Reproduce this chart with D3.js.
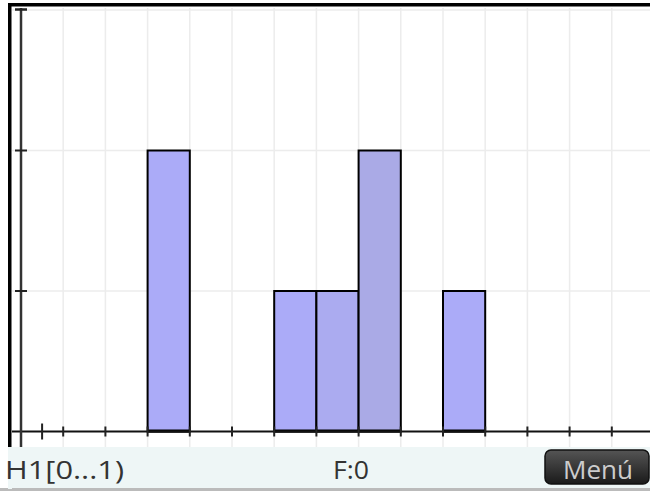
<!DOCTYPE html>
<html><head><meta charset="utf-8">
<script src="https://cdn.jsdelivr.net/npm/d3@7"></script>
<style>body{margin:0;background:#fff}svg{display:block}</style>
</head><body>
<script>
const binStarts = [3, 6, 7, 8, 10];
const counts = [2, 1, 1, 2, 1];
const binColors = ["#ababf8", "#ababf8", "#ababf0", "#aaaae6", "#ababf8"];
const gridX = [1,2,3,4,5,6,7,8,9,10,11,12,13,14];
const tickX = [0.5,1,2,3,4,5,6,7,8,9,10,11,12,13,14];
const gridY = [1,2,3];
const statusLeft = "H1[0...1)";
const statusMid = "F:0";
const menuLabel = "Menú";

const W = 650, H = 491;
const svg = d3.select("body").append("svg").attr("width", W).attr("height", H);
const x = d3.scaleLinear().domain([0, 14]).range([21, 21 + 14*42.2]);
const y = d3.scaleLinear().domain([0, 3]).range([431.5, 10]);
const font = "'Open Sans', 'DejaVu Sans', sans-serif";

// frame
svg.append("rect").attr("x",0).attr("y",0).attr("width",W).attr("height",H).attr("fill","#fff");
svg.append("rect").attr("x",8).attr("y",3).attr("width",W-8).attr("height",3.5).attr("fill","#000");
svg.append("rect").attr("x",8).attr("y",3).attr("width",3.5).attr("height",445).attr("fill","#000");

// grid
svg.append("g").selectAll("line").data(gridX).join("line")
  .attr("x1",d=>x(d)).attr("x2",d=>x(d)).attr("y1",8).attr("y2",447)
  .attr("stroke","#ececec").attr("stroke-width",1.5);
svg.append("g").selectAll("line").data(gridY).join("line")
  .attr("x1",12).attr("x2",W).attr("y1",d=>y(d)).attr("y2",d=>y(d))
  .attr("stroke","#ececec").attr("stroke-width",1.5);

// bars
svg.append("g").selectAll("rect").data(binStarts).join("rect")
  .attr("x",(d)=>x(d)).attr("width",(d)=>x(d+1)-x(d))
  .attr("y",(d,i)=>y(counts[i])).attr("height",(d,i)=>y(0)-y(counts[i]))
  .attr("fill",(d,i)=>binColors[i]).attr("stroke","#000").attr("stroke-width",2);
svg.append("g").selectAll("line").data(binStarts).join("line")
  .attr("x1",d=>x(d)).attr("x2",d=>x(d+1)).attr("y1",y(0)-0.5).attr("y2",y(0)-0.5)
  .attr("stroke","#000").attr("stroke-width",3);

// axes
svg.append("line").attr("x1",12).attr("x2",W).attr("y1",y(0)).attr("y2",y(0))
  .attr("stroke","#111").attr("stroke-width",2);
svg.append("line").attr("x1",x(0)).attr("x2",x(0)).attr("y1",8).attr("y2",447)
  .attr("stroke","#333").attr("stroke-width",2.5);
svg.append("line").attr("x1",15).attr("x2",27).attr("y1",9.5).attr("y2",9.5)
  .attr("stroke","#222").attr("stroke-width",2.5);
svg.append("g").selectAll("line").data(gridY.slice(0,2)).join("line")
  .attr("x1",15).attr("x2",27).attr("y1",d=>y(d)).attr("y2",d=>y(d))
  .attr("stroke","#222").attr("stroke-width",2);
svg.append("g").selectAll("line").data(tickX).join("line")
  .attr("x1",d=>x(d)).attr("x2",d=>x(d))
  .attr("y1",d=>d===0.5?y(0)-8:y(0)-5).attr("y2",d=>d===0.5?y(0)+8:y(0)+5)
  .attr("stroke","#222").attr("stroke-width",2);

// status bar
svg.append("rect").attr("x",12).attr("y",447).attr("width",W-12).attr("height",42).attr("fill","#eef6f6");
svg.append("rect").attr("x",0).attr("y",488).attr("width",W).attr("height",3).attr("fill","#bbb");
svg.append("rect").attr("x",8).attr("y",447).attr("width",4).attr("height",42).attr("fill","#eef6f6");
svg.append("text").attr("x",5).attr("y",479).text(statusLeft)
  .attr("textLength",119).attr("lengthAdjust","spacingAndGlyphs")
  .attr("font-family",font).attr("font-size",25).attr("fill","#333");
svg.append("text").attr("x",333).attr("y",479).text(statusMid)
  .attr("textLength",36).attr("lengthAdjust","spacingAndGlyphs")
  .attr("font-family",font).attr("font-size",25).attr("fill","#333");
const grad = svg.append("defs").append("linearGradient").attr("id","mg").attr("x1",0).attr("x2",0).attr("y1",0).attr("y2",1);
grad.append("stop").attr("offset","0%").attr("stop-color","#555");
grad.append("stop").attr("offset","100%").attr("stop-color","#1a1a1a");
svg.append("rect").attr("x",545).attr("y",450).attr("width",104).attr("height",34).attr("rx",6)
  .attr("fill","url(#mg)").attr("stroke","#111").attr("stroke-width",1.5);
svg.append("text").attr("x",563).attr("y",479).text(menuLabel)
  .attr("textLength",70).attr("lengthAdjust","spacingAndGlyphs")
  .attr("font-family",font).attr("font-size",25).attr("fill","#ccc");
</script>
</body></html>
